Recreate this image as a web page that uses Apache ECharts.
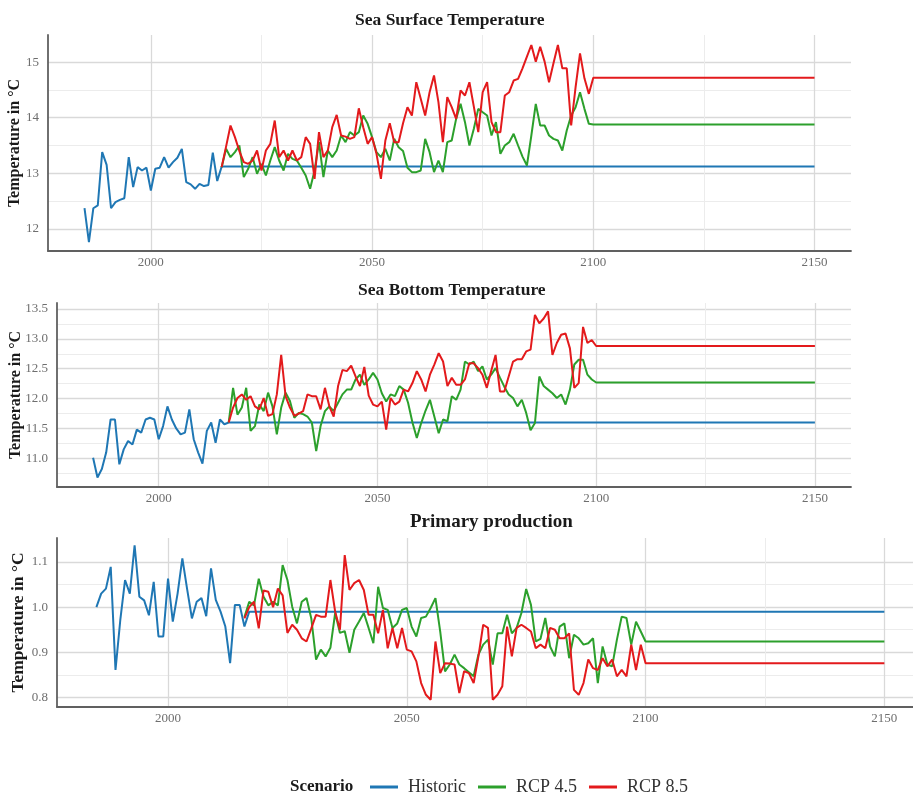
<!DOCTYPE html>
<html>
<head>
<meta charset="utf-8">
<script src="https://cdn.jsdelivr.net/npm/echarts@6/dist/echarts.min.js"></script>
<style>
  html, body { margin: 0; padding: 0; background: #ffffff; }
  #chart { width: 913px; height: 799px; }
</style>
</head>
<body>
<div id="chart"></div>
<script>
// Scenarios and their colours
const scenarioNames = ['Historic', 'RCP 4.5', 'RCP 8.5'];
const scenarioColors = ['#1f77b4', '#2ca02c', '#e31a1c'];

// Time axis
const historicStart = 1985;
const projectionStart = 2016;
const plateauEnd = 2150;
const yearTicks = [2000, 2050, 2100, 2150];
const yearMinorTicks = [2025, 2075, 2125];

// Sea surface temperature (°C)
const sstHistoric = [
  12.37, 11.76, 12.37, 12.42, 13.38, 13.15, 12.37, 12.48, 12.52, 12.55,
  13.29, 12.75, 13.11, 13.05, 13.10, 12.69, 13.08, 13.10, 13.29, 13.10,
  13.20, 13.28, 13.44, 12.84, 12.80, 12.72, 12.81, 12.77, 12.79, 13.37,
  12.86, 13.12
];
const sstRcp45 = [
  13.11, 13.44, 13.29, 13.38, 13.50, 12.93, 13.08, 13.29, 12.99, 13.17,
  12.96, 13.23, 13.47, 13.23, 13.05, 13.35, 13.26, 13.23, 13.10, 12.96,
  12.72, 13.05, 13.56, 12.93, 13.41, 13.29, 13.41, 13.68, 13.56, 13.74,
  13.68, 13.74, 14.04, 13.89, 13.65, 13.38, 13.29, 13.44, 13.23, 13.62,
  13.47, 13.40, 13.10, 13.02, 13.02, 13.05, 13.62, 13.38, 13.02, 13.23,
  13.02, 13.56, 13.59, 13.98, 14.25, 13.92, 13.50, 13.80, 14.16, 14.10,
  14.04, 13.68, 13.92, 13.35, 13.50, 13.56, 13.71, 13.50, 13.30, 13.14,
  13.68, 14.25, 13.86, 13.86, 13.68, 13.62, 13.59, 13.41, 13.77, 14.04,
  14.19, 14.46, 14.16, 13.89, 13.88
];
const sstRcp85 = [
  13.11, 13.48, 13.86, 13.65, 13.40, 13.20, 13.17, 13.23, 13.41, 13.05,
  13.41, 13.53, 13.95, 13.29, 13.41, 13.23, 13.41, 13.23, 13.29, 13.65,
  13.53, 12.90, 13.74, 13.29, 13.41, 13.83, 14.05, 13.68, 13.66, 13.62,
  13.65, 14.17, 13.83, 13.53, 13.65, 13.35, 12.90, 13.59, 13.90, 13.56,
  13.56, 13.90, 14.19, 14.04, 14.64, 14.34, 14.04, 14.46, 14.76, 14.28,
  13.56, 14.37, 14.19, 13.98, 14.49, 14.40, 14.64, 14.20, 13.74, 14.46,
  14.64, 13.92, 13.74, 13.74, 14.40, 14.46, 14.67, 14.70, 14.89, 15.10,
  15.31, 15.01, 15.28, 15.01, 14.64, 14.98, 15.31, 14.89, 14.89, 13.86,
  14.55, 15.16, 14.71, 14.43, 14.72
];
const sstTicks = [12, 13, 14, 15];
const sstMinorTicks = [12.5, 13.5, 14.5];

// Sea bottom temperature (°C)
const sbtHistoric = [
  11.01, 10.68, 10.82, 11.10, 11.65, 11.65, 10.90, 11.15, 11.29, 11.23,
  11.48, 11.43, 11.65, 11.68, 11.65, 11.32, 11.54, 11.87, 11.65, 11.50,
  11.40, 11.43, 11.82, 11.32, 11.10, 10.91, 11.46, 11.60, 11.26, 11.65,
  11.57, 11.60
];
const sbtRcp45 = [
  11.60, 12.18, 11.73, 11.85, 12.18, 11.46, 11.54, 11.90, 11.79, 12.10,
  11.87, 11.40, 11.85, 12.10, 11.96, 11.68, 11.76, 11.74, 11.70, 11.60,
  11.12, 11.54, 11.79, 11.87, 11.79, 11.93, 12.07, 12.15, 12.15, 12.32,
  12.40, 12.23, 12.32, 12.43, 12.32, 12.09, 11.95, 12.07, 12.04, 12.21,
  12.15, 11.93, 11.60, 11.34, 11.59, 11.80, 11.98, 11.70, 11.42, 11.65,
  11.62, 12.04, 11.98, 12.15, 12.62, 12.57, 12.62, 12.46, 12.54, 12.32,
  12.40, 12.51, 12.35, 12.20, 12.07, 12.01, 11.87, 11.98, 11.76, 11.47,
  11.59, 12.37, 12.21, 12.15, 12.09, 12.01, 12.07, 11.90, 12.15, 12.57,
  12.65, 12.65, 12.40, 12.32, 12.27
];
const sbtRcp85 = [
  11.60, 11.85, 12.01, 12.07, 11.98, 12.04, 11.87, 11.82, 12.01, 11.71,
  11.74, 12.07, 12.73, 12.04, 11.85, 11.71, 11.75, 11.79, 12.07, 12.04,
  12.04, 11.82, 12.18, 11.87, 11.70, 12.21, 12.48, 12.46, 12.55, 12.37,
  12.21, 12.53, 12.05, 11.90, 11.87, 11.95, 11.48, 12.01, 11.90, 11.95,
  12.15, 12.12, 12.26, 12.46, 12.32, 12.12, 12.40, 12.57, 12.76, 12.62,
  12.21, 12.35, 12.23, 12.23, 12.32, 12.59, 12.59, 12.51, 12.40, 12.18,
  12.46, 12.73, 12.12, 12.12, 12.37, 12.62, 12.66, 12.66, 12.79, 12.82,
  13.40, 13.26, 13.34, 13.46, 12.73, 12.93, 13.07, 13.09, 12.84, 12.18,
  12.26, 13.20, 12.93, 12.98, 12.88
];
const sbtTicks = [11.0, 11.5, 12.0, 12.5, 13.0, 13.5];
const sbtMinorTicks = [10.75, 11.25, 11.75, 12.25, 12.75, 13.25];

// Primary production
const ppHistoric = [
  1.000, 1.030, 1.041, 1.089, 0.861, 0.971, 1.060, 1.030, 1.137, 1.023,
  1.015, 0.982, 1.056, 0.935, 0.935, 1.063, 0.968, 1.030, 1.108, 1.040,
  0.975, 1.012, 1.020, 0.980, 1.086, 1.016, 0.990, 0.957, 0.876, 1.005,
  1.005, 0.957, 0.990
];
const ppRcp45 = [
  0.978, 1.012, 1.004, 1.063, 1.023, 1.004, 1.012, 1.004, 1.093, 1.060,
  1.001, 0.964, 1.012, 1.020, 0.975, 0.884, 0.906, 0.891, 0.910, 0.987,
  0.943, 0.947, 0.899, 0.950, 0.968, 0.987, 0.954, 0.920, 1.045, 0.998,
  0.994, 0.954, 0.964, 0.994, 0.998, 0.957, 0.935, 0.976, 0.979, 0.998,
  1.020, 0.946, 0.858, 0.873, 0.895, 0.873, 0.865, 0.856, 0.847, 0.895,
  0.917, 0.928, 0.873, 0.942, 0.942, 0.983, 0.942, 0.954, 0.987, 1.040,
  1.005, 0.924, 0.930, 0.976, 0.913, 0.891, 0.957, 0.964, 0.887, 0.939,
  0.931, 0.917, 0.920, 0.931, 0.832, 0.913, 0.873, 0.869, 0.928, 0.979,
  0.976, 0.917, 0.968, 0.946, 0.924
];
const ppRcp85 = [
  0.975, 1.000, 1.012, 0.953, 1.037, 1.034, 1.000, 1.041, 1.026, 0.943,
  0.961, 0.950, 0.931, 0.924, 0.953, 0.983, 0.979, 0.979, 1.060, 0.990,
  0.950, 1.115, 1.038, 1.053, 1.060, 1.038, 0.983, 0.983, 0.942, 0.994,
  0.909, 0.954, 0.909, 0.954, 0.906, 0.902, 0.880, 0.832, 0.806, 0.795,
  0.924, 0.854, 0.876, 0.875, 0.873, 0.810, 0.858, 0.854, 0.832, 0.891,
  0.961, 0.954, 0.795, 0.806, 0.825, 0.957, 0.891, 0.954, 0.961, 0.954,
  0.946, 0.909, 0.917, 0.909, 0.954, 0.950, 0.931, 0.931, 0.942, 0.817,
  0.806, 0.832, 0.884, 0.865, 0.861, 0.887, 0.869, 0.884, 0.847, 0.861,
  0.847, 0.917, 0.861, 0.917, 0.876
];
const ppTicks = [0.8, 0.9, 1.0, 1.1];
const ppMinorTicks = [0.85, 0.95, 1.05];

const panelTitles = ['Sea Surface Temperature', 'Sea Bottom Temperature', 'Primary production'];
const yAxisTitle = 'Temperature in °C';
const legendTitle = 'Scenario';

// ---- layout / styling ----
const serif = 'Liberation Serif';
const majorGrid = { color: '#d9d9d9', width: 1.3 };
const minorGrid = { color: '#ececec', width: 1 };
const axisLineStyle = { color: '#606060', width: 1.8 };
const tickLabelColor = '#6e6e6e';

const panels = [
  {
    title: panelTitles[0], titleLeft: 350, titleTop: 6, titleSize: 17.5,
    grid: { left: 48, top: 35, width: 803, height: 216 },
    x: [1976.75, 2158.25], y: [11.6, 15.49],
    ticks: sstTicks, minor: sstMinorTicks, decimals: 0,
    nameGap: 25, nameSize: 16,
    hist: sstHistoric, r45: sstRcp45, r85: sstRcp85
  },
  {
    title: panelTitles[1], titleLeft: 353, titleTop: 276, titleSize: 17.5,
    grid: { left: 57, top: 303, width: 794, height: 184 },
    x: [1976.75, 2158.25], y: [10.52, 13.6],
    ticks: sbtTicks, minor: sbtMinorTicks, decimals: 1,
    nameGap: 33, nameSize: 16,
    hist: sbtHistoric, r45: sbtRcp45, r85: sbtRcp85
  },
  {
    title: panelTitles[2], titleLeft: 405, titleTop: 508, titleSize: 19,
    grid: { left: 57, top: 538, width: 856, height: 169 },
    x: [1976.75, 2156], y: [0.779, 1.153],
    ticks: ppTicks, minor: ppMinorTicks, decimals: 1,
    nameGap: 30, nameSize: 17.5,
    hist: ppHistoric, r45: ppRcp45, r85: ppRcp85
  }
];

// yearly values followed by a constant plateau up to the end year
function toPoints(start, values) {
  const pts = values.map((v, i) => [start + i, v]);
  pts.push([plateauEnd, values[values.length - 1]]);
  return pts;
}

const titles = [];
const grids = [];
const xAxes = [];
const yAxes = [];
const series = [];

panels.forEach((p, k) => {
  titles.push({
    text: p.title, left: p.titleLeft, top: p.titleTop,
    textStyle: { fontFamily: serif, fontWeight: 'bold', fontSize: p.titleSize, color: '#1a1a1a' }
  });
  grids.push(Object.assign({ containLabel: false, outerBoundsMode: 'none' }, p.grid));

  // major x axis with labels
  xAxes.push({
    type: 'value', gridIndex: k, min: p.x[0], max: p.x[1],
    axisLine: { show: true, onZero: false, lineStyle: axisLineStyle },
    axisTick: { show: false, customValues: yearTicks },
    axisLabel: {
      customValues: yearTicks, color: tickLabelColor, fontFamily: serif, fontSize: 13, margin: 5,
      formatter: v => String(v)
    },
    splitLine: { show: true, lineStyle: majorGrid }
  });
  // major y axis with labels
  yAxes.push({
    type: 'value', gridIndex: k, min: p.y[0], max: p.y[1],
    name: yAxisTitle, nameLocation: 'middle', nameGap: p.nameGap, nameMoveOverlap: false,
    nameTextStyle: { fontFamily: serif, fontWeight: 'bold', fontSize: p.nameSize, color: '#1a1a1a' },
    axisLine: { show: true, onZero: false, lineStyle: axisLineStyle },
    axisTick: { show: false, customValues: p.ticks },
    axisLabel: {
      customValues: p.ticks, color: tickLabelColor, fontFamily: serif, fontSize: 13, margin: 9,
      formatter: v => Number(v).toFixed(p.decimals)
    },
    splitLine: { show: true, lineStyle: majorGrid }
  });
  // minor grid axes
  xAxes.push({
    type: 'value', gridIndex: k, min: p.x[0], max: p.x[1], position: 'bottom',
    axisLine: { show: false }, axisLabel: { show: false },
    axisTick: { show: false, customValues: yearMinorTicks },
    splitLine: { show: true, lineStyle: minorGrid }, z: 0
  });
  yAxes.push({
    type: 'value', gridIndex: k, min: p.y[0], max: p.y[1], position: 'left',
    axisLine: { show: false }, axisLabel: { show: false },
    axisTick: { show: false, customValues: p.minor },
    splitLine: { show: true, lineStyle: minorGrid }, z: 0
  });

  const lines = [
    toPoints(historicStart, p.hist),
    toPoints(projectionStart, p.r45),
    toPoints(projectionStart, p.r85)
  ];
  lines.forEach((data, s) => {
    series.push({
      type: 'line', name: scenarioNames[s], xAxisIndex: 2 * k, yAxisIndex: 2 * k,
      data: data, showSymbol: false, symbol: 'none', silent: true,
      lineStyle: { color: scenarioColors[s], width: 2 },
      itemStyle: { color: scenarioColors[s] },
      emphasis: { disabled: true }, z: 3 + s
    });
  });
});

titles.push({
  text: legendTitle, left: 285, top: 773,
  textStyle: { fontFamily: serif, fontWeight: 'bold', fontSize: 17, color: '#1a1a1a' }
});

const chart = echarts.init(document.getElementById('chart'), null, { renderer: 'canvas' });
chart.setOption({
  animation: false,
  backgroundColor: '#ffffff',
  title: titles,
  grid: grids,
  xAxis: xAxes,
  yAxis: yAxes,
  legend: {
    data: scenarioNames, left: 365, top: 773,
    icon: 'rect', itemWidth: 28, itemHeight: 3, itemGap: 12,
    textStyle: { fontFamily: serif, fontSize: 18, color: '#333333', padding: [0, 0, 0, 5] },
    selectedMode: false
  },
  series: series
});
</script>
</body>
</html>
